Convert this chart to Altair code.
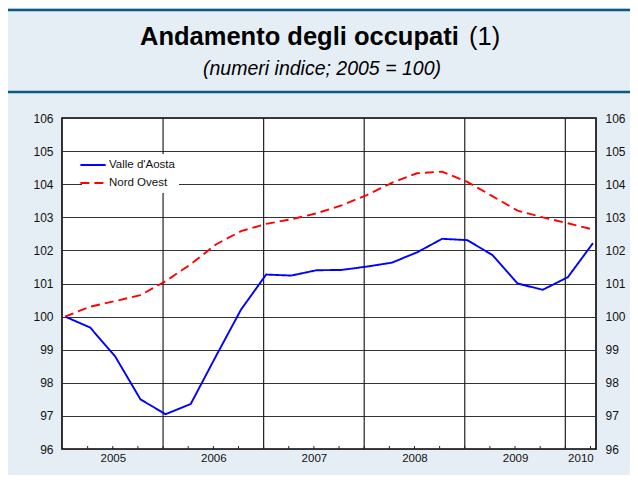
import json
import altair as alt
import pandas as pd

# ---- data (quarterly, 2005 Q1 .. 2010 Q2) ----
quarters = list(range(22))
valle = [100.0, 99.67, 98.79, 97.50, 97.05, 97.36, 98.80, 100.21, 101.27, 101.24, 101.40,
         101.41, 101.51, 101.63, 101.94, 102.35, 102.31, 101.86, 101.00, 100.81, 101.19, 102.22]
nord = [100.0, 100.30, 100.47, 100.65, 101.07, 101.58, 102.18, 102.58, 102.80, 102.94, 103.12,
        103.36, 103.67, 104.04, 104.33, 104.38, 104.07, 103.64, 103.20, 103.00, 102.82, 102.63]
series_names = ["Valle d'Aosta", "Nord Ovest"]
year_labels = ["2005", "2006", "2007", "2008", "2009", "2010"]
year_label_pos = [1.9, 5.9, 9.9, 13.9, 17.9, 20.5]
year_bounds = [3.9, 7.9, 11.9, 15.9, 19.9]
quarter_ticks = [k - 0.1 for k in range(1, 22)]
y_ticks = list(range(96, 107))
title_main = "Andamento degli occupati"
title_note = "(1)"
subtitle = "(numeri indice; 2005 = 100)"

FONT = "Liberation Sans"

df = pd.DataFrame({
    "q": quarters * 2,
    "v": valle + nord,
    "serie": [series_names[0]] * len(valle) + [series_names[1]] * len(nord),
})
bounds_df = pd.DataFrame({"b": year_bounds, "lo": [96] * len(year_bounds), "hi": [106] * len(year_bounds)})
ticks_df = pd.DataFrame({"t": quarter_ticks, "lo": [96.0] * len(quarter_ticks), "hi": [96.09] * len(quarter_ticks)})
one = pd.DataFrame({"k": [0]})

xscale = alt.Scale(domain=[-0.12, 21.12], nice=False, zero=False)
yscale = alt.Scale(domain=[96, 106], nice=False, zero=False)

label_expr = json.dumps(year_labels) + "[floor((datum.value + 0.1) / 4)]"
xaxis = alt.Axis(values=year_label_pos, labelExpr=label_expr, ticks=False, domain=False,
                 grid=False, title=None, labelFontSize=11.5, labelPadding=3,
                 labelColor="#111", labelFont=FONT)

pad = "\u00a0" * 4
legend = alt.Legend(orient="none", legendX=20, legendY=36, fillColor="white", padding=4,
                    symbolType="M-2.1,0H2.1", symbolSize=144, symbolStrokeWidth=2,
                    labelFontSize=11.5, labelFont=FONT, labelColor="#111", labelOffset=9,
                    rowPadding=5, labelExpr="datum.label + '" + pad + "'")

vgrid = alt.Chart(bounds_df).mark_rule(color="#222", strokeWidth=1.2).encode(
    x=alt.X("b:Q", scale=xscale, axis=xaxis),
    y=alt.Y("lo:Q", scale=yscale,
            axis=alt.Axis(orient="right", values=y_ticks, grid=False, ticks=False, domain=False,
                          title=None, labelPadding=9, labelFontSize=12, labelFont=FONT,
                          labelColor="#111")),
    y2="hi:Q",
)

qticks = alt.Chart(ticks_df).mark_rule(color="#222", strokeWidth=1).encode(
    x=alt.X("t:Q", scale=xscale, axis=xaxis),
    y=alt.Y("lo:Q", scale=yscale, axis=None),
    y2="hi:Q",
)

lines = alt.Chart(df).mark_line(strokeWidth=1.9).encode(
    x=alt.X("q:Q", scale=xscale, axis=xaxis),
    y=alt.Y("v:Q", scale=yscale,
            axis=alt.Axis(orient="left", values=y_ticks, grid=True, gridColor="#333",
                          gridWidth=1, ticks=False, domain=False, title=None, labelPadding=9,
                          labelFontSize=12, labelFont=FONT, labelColor="#111")),
    color=alt.Color("serie:N", title=None,
                    scale=alt.Scale(domain=series_names, range=["#0000ff", "#ff0000"]),
                    legend=legend),
    strokeDash=alt.StrokeDash("serie:N", title=None,
                              scale=alt.Scale(domain=series_names, range=[[1, 0], [9, 5]]),
                              legend=legend),
)

band_top = alt.Chart(one).mark_rule(color="#0b5a82", strokeWidth=2.5).encode(
    x=alt.value(-54), x2=alt.value(568), y=alt.value(-108))
band_bottom = alt.Chart(one).mark_rule(color="#0b5a82", strokeWidth=2.5).encode(
    x=alt.value(-54), x2=alt.value(568), y=alt.value(-26))

t_main = alt.Chart(one).mark_text(text=title_main, font=FONT, fontSize=25.5, fontWeight="bold",
                                  align="left", baseline="alphabetic", color="#000").encode(
    x=alt.value(78), y=alt.value(-73))
t_note = alt.Chart(one).mark_text(text=title_note, font=FONT, fontSize=25.5, align="left",
                                  baseline="alphabetic", color="#000").encode(
    x=alt.value(407), y=alt.value(-73))
t_sub = alt.Chart(one).mark_text(text=subtitle, font=FONT, fontSize=19.5, fontStyle="italic",
                                 align="center", baseline="alphabetic", color="#000").encode(
    x=alt.value(260), y=alt.value(-43))

chart = alt.layer(
    vgrid, qticks, lines, band_top, band_bottom, t_main, t_note, t_sub
).resolve_axis(y="independent").properties(
    width=534, height=331,
    autosize=alt.AutoSizeParams(type="none"),
    padding={"left": 54, "top": 110, "right": 34, "bottom": 26},
).configure(
    background="#e6eef5", font=FONT,
).configure_view(
    fill="white", stroke="#000", strokeWidth=1.6,
)

chart.save("out.html", embed_options={"renderer": "svg", "actions": False})
